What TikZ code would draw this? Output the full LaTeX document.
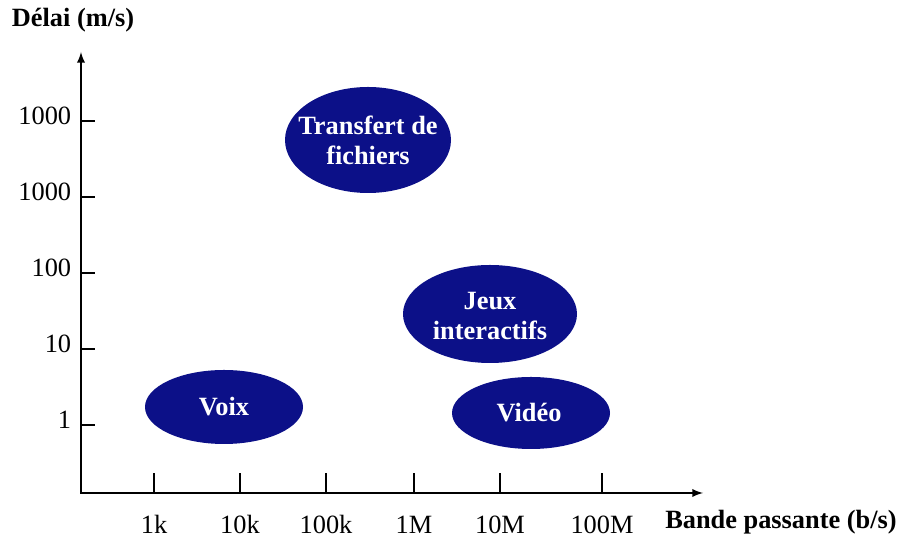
\documentclass[tikz,border=0pt]{standalone}
\usepackage{fontspec}
\setmainfont{Liberation Serif}
\definecolor{navy}{RGB}{12,16,136}
\tikzset{
  lab/.style={font=\fontsize{15}{17}\selectfont},
  boldlab/.style={font=\fontsize{15}{17}\selectfont\bfseries},
  bubtext/.style={text=white, align=center, font=\fontsize{15}{17}\selectfont\bfseries},
}
\begin{document}
\begin{tikzpicture}[line width=1.1pt]
  \useasboundingbox (0, 0) rectangle (18, 10.86);
  \coordinate (O) at (1.62, 1);
  \coordinate (ytop) at (1.62, 9.82);
  \coordinate (xend) at (14.06, 1);
  \draw[latex-latex] (ytop) -- (O) -- (xend);
  \node[boldlab] (ylab) at (1.46, 10.46) {Délai (m/s)};
  \node[boldlab] (xlab) at (15.62, 0.42) {Bande passante (b/s)};
  % graduations
  \foreach \y/\t in {2.36/1, 3.88/10, 5.40/100, 6.92/1000, 8.44/1000} {
    \draw (1.62, \y) -- ++(0.28, 0);
    \node[lab, anchor=east] at (1.56, \y + 0.1) {\t};
  }
  \foreach \x/\t in {3.08/1k, 4.80/10k, 6.52/100k, 8.28/1M, 10.00/10M, 12.04/100M} {
    \draw (\x, 1) -- ++(0, 0.4);
    \node[lab] at (\x, 0.37) {\t};
  }
  % applications
  \fill[navy] (7.36, 8.06) ellipse [x radius=1.66, y radius=1.06];
  \node[bubtext] (transfert) at (7.36, 8.06) {Transfert de\\fichiers};
  \fill[navy] (9.80, 4.58) ellipse [x radius=1.74, y radius=0.98];
  \node[bubtext] (jeux) at (9.80, 4.54) {Jeux\\interactifs};
  \fill[navy] (10.62, 2.60) ellipse [x radius=1.58, y radius=0.72];
  \node[bubtext] (video) at (10.58, 2.60) {Vidéo};
  \fill[navy] (4.48, 2.72) ellipse [x radius=1.58, y radius=0.74];
  \node[bubtext] (voix) at (4.48, 2.72) {Voix};
\end{tikzpicture}
\end{document}
